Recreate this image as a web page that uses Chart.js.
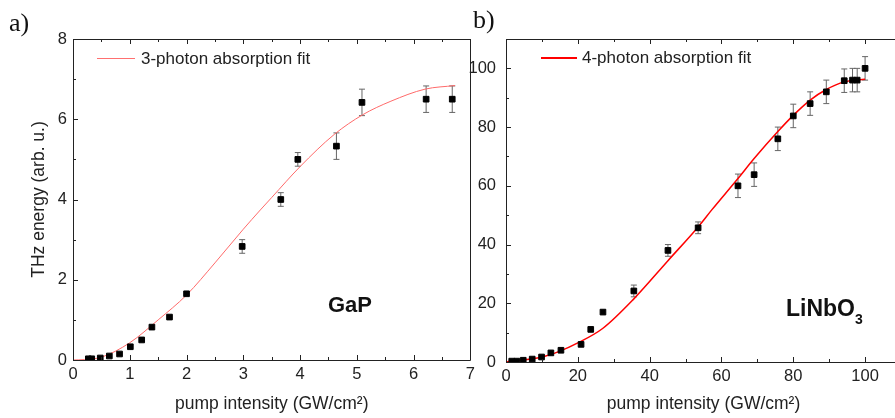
<!DOCTYPE html>
<html>
<head>
<meta charset="utf-8">
<script src="https://cdn.jsdelivr.net/npm/chart.js@4.4.1/dist/chart.umd.min.js"></script>
<style>
  body { margin: 0; width: 895px; height: 418px; overflow: hidden; position: relative; background: #fff; font-family: "Liberation Sans", Arial, sans-serif; color: #222; }
  canvas { position: absolute; top: 0; }
  #chartA { left: 0; }
  #chartB { left: 466px; }
  .lbl { position: absolute; white-space: nowrap; line-height: 1; }
  .panel { font-family: "Liberation Serif", "Times New Roman", serif; font-size: 26px; color: #111; }
  .mat { font-weight: bold; font-size: 22px; color: #111; }
  .leg { font-size: 17px; }
  .legline { position: absolute; }
</style>
</head>
<body>
<canvas id="chartA" width="480" height="418"></canvas>
<canvas id="chartB" width="444" height="418"></canvas>

<div class="lbl panel" style="left:9px; top:10px;">a)</div>
<div class="lbl panel" style="left:473px; top:7px;">b)</div>

<div class="legline" style="left:97px; top:58px; width:38px; height:1px; background:#ff7070;"></div>
<div class="lbl leg" style="left:141px; top:50px;">3-photon absorption fit</div>
<div class="legline" style="left:541px; top:57px; width:36px; height:1.5px; background:#ff0000;"></div>
<div class="lbl leg" style="left:582px; top:49px;">4-photon absorption fit</div>

<div class="lbl mat" style="left:328px; top:294px;">GaP</div>
<div class="lbl mat" style="left:786px; top:297px; font-size:23px;">LiNbO<span style="font-size:14px; position:relative; top:8px;">3</span></div>

<script>
// panel a: GaP
const gapX   = [0.27, 0.33, 0.48, 0.64, 0.82, 1.01, 1.21, 1.39, 1.70, 2.00, 2.98, 3.66, 3.96, 4.64, 5.09, 6.22, 6.68];
const gapY   = [0.03, 0.03, 0.05, 0.10, 0.15, 0.33, 0.50, 0.82, 1.07, 1.65, 2.83, 4.00, 5.00, 5.33, 6.42, 6.50, 6.50];
const gapErr = [0, 0, 0, 0, 0, 0, 0, 0, 0, 0, 0.17, 0.17, 0.17, 0.33, 0.33, 0.33, 0.33];
const gapFitX = [0, 0.2, 0.5, 1.0, 1.5, 2.0, 2.5, 3.0, 3.3, 3.5, 4.0, 4.6, 5.1, 5.6, 6.2, 6.73];
const gapFitY = [0, 0.01, 0.07, 0.43, 1.0, 1.62, 2.42, 3.26, 3.74, 4.05, 4.82, 5.62, 6.11, 6.45, 6.75, 6.84];

// panel b: LiNbO3
const lnX   = [1.6, 3.0, 4.8, 7.3, 9.9, 12.5, 15.3, 20.9, 23.6, 27.0, 35.6, 45.1, 53.5, 64.6, 69.1, 75.7, 80.0, 84.7, 89.2, 94.2, 96.5, 97.8, 100.0];
const lnY   = [0.3, 0.3, 0.6, 1.0, 1.7, 3.1, 4.0, 6.0, 11.1, 17.0, 24.2, 38.0, 45.7, 60.0, 63.8, 76.0, 83.8, 88.0, 92.0, 95.8, 96.0, 96.0, 100.0];
const lnErr = [0, 0, 0, 0, 0, 0, 0, 0, 0, 0, 2, 2, 2, 4, 4, 4, 4, 4, 4, 4, 4, 4, 4];
const lnFitX = [0, 10, 15, 20, 27, 35.6, 45.1, 53.5, 57.3, 64.6, 69.1, 75.7, 80, 84.7, 89.2, 94.2, 100];
const lnFitY = [0, 1.7, 3.7, 6.5, 11.5, 21.5, 34.5, 46.0, 51.8, 62.5, 69.3, 78.5, 84.0, 89.2, 92.8, 95.4, 96.3];

const xy = (xs, ys) => xs.map((x, i) => ({ x: x, y: ys[i] }));

Chart.defaults.font.family = '"Liberation Sans", Arial, sans-serif';
Chart.defaults.font.size = 16.5;
Chart.defaults.color = '#222';

// frame, inward ticks (major longer) and error bars
const framePlugin = {
  id: 'frame',
  beforeDatasetsDraw(chart) {
    const ctx = chart.ctx;
    const ys = chart.scales.y;
    chart.data.datasets.forEach((ds, di) => {
      if (!ds.err) return;
      const meta = chart.getDatasetMeta(di);
      ctx.save();
      ctx.strokeStyle = '#666';
      ctx.lineWidth = 1;
      meta.data.forEach((pt, i) => {
        const e = ds.err[i];
        if (!e) return;
        const v = ds.data[i].y;
        const y1 = ys.getPixelForValue(v - e), y2 = ys.getPixelForValue(v + e);
        ctx.beginPath();
        ctx.moveTo(pt.x, y1); ctx.lineTo(pt.x, y2);
        ctx.moveTo(pt.x - 3, y1); ctx.lineTo(pt.x + 3, y1);
        ctx.moveTo(pt.x - 3, y2); ctx.lineTo(pt.x + 3, y2);
        ctx.stroke();
      });
      ctx.restore();
    });
  },
  afterDraw(chart) {
    const ctx = chart.ctx;
    const a = chart.chartArea;
    const xs = chart.scales.x, ys = chart.scales.y;
    ctx.save();
    ctx.strokeStyle = '#222';
    ctx.lineWidth = 1;
    ctx.beginPath();
    ctx.rect(Math.round(a.left) + 0.5, Math.round(a.top) + 0.5, Math.round(a.right - a.left), Math.round(a.bottom - a.top));
    ctx.stroke();
    ctx.beginPath();
    xs.ticks.forEach(t => {
      const px = Math.round(xs.getPixelForValue(t.value)) + 0.5;
      const len = t.label !== '' ? 5 : 3;
      ctx.moveTo(px, a.bottom); ctx.lineTo(px, a.bottom - len);
      ctx.moveTo(px, a.top); ctx.lineTo(px, a.top + len);
    });
    ys.ticks.forEach(t => {
      const py = Math.round(ys.getPixelForValue(t.value)) + 0.5;
      const len = t.label !== '' ? 5 : 3;
      ctx.moveTo(a.left, py); ctx.lineTo(a.left + len, py);
    });
    ctx.stroke();
    ctx.restore();
  }
};

function makeChart(id, cfg) {
  return new Chart(document.getElementById(id), {
    type: 'scatter',
    data: {
      datasets: [
        {
          data: cfg.points, err: cfg.err, order: 0,
          pointStyle: 'rect', pointRadius: 4, pointBorderWidth: 1,
          backgroundColor: '#000', borderColor: '#000'
        },
        {
          data: cfg.fit, order: 1, showLine: true, pointRadius: 0,
          borderColor: cfg.fitColor, borderWidth: cfg.fitWidth,
          cubicInterpolationMode: 'monotone'
        }
      ]
    },
    options: {
      responsive: false,
      animation: false,
      layout: { padding: cfg.padding },
      plugins: { legend: { display: false }, tooltip: { enabled: false } },
      scales: {
        x: {
          type: 'linear', min: 0, max: cfg.xMax,
          grid: { display: false, drawTicks: false }, border: { display: false },
          ticks: { stepSize: cfg.xStep, autoSkip: false, maxRotation: 0, padding: 5, callback: cfg.xLabel },
          title: { display: true, text: 'pump intensity (GW/cm²)', font: { size: 17.5 }, padding: { top: 0, bottom: 3 } },
          afterFit: s => { s.height = cfg.xHeight; }
        },
        y: {
          type: 'linear', min: 0, max: cfg.yMax,
          grid: { display: false, drawTicks: false }, border: { display: false },
          ticks: { stepSize: cfg.yStep, autoSkip: false, padding: cfg.yPad, callback: cfg.yLabel },
          title: { display: !!cfg.yTitle, text: cfg.yTitle || '', font: { size: 17.5 }, padding: { top: 29, bottom: 0 } },
          afterFit: s => { s.width = cfg.yWidth; }
        }
      }
    },
    plugins: [framePlugin]
  });
}

makeChart('chartA', {
  points: xy(gapX, gapY), err: gapErr, fit: xy(gapFitX, gapFitY),
  fitColor: '#ff6a6a', fitWidth: 1,
  xMax: 7, xStep: 0.5, yMax: 8, yStep: 1,
  xLabel: v => Number.isInteger(v) ? v : '',
  yLabel: v => v % 2 === 0 ? v : '',
  yTitle: 'THz energy (arb. u.)',
  padding: { top: 39, right: 7, left: 0, bottom: 0 },
  xHeight: 58, yWidth: 73, yPad: 6
});

makeChart('chartB', {
  points: xy(lnX, lnY), err: lnErr, fit: xy(lnFitX, lnFitY),
  fitColor: '#ff0000', fitWidth: 1.5,
  xMax: 110, xStep: 10, yMax: 110, yStep: 10,
  xLabel: v => (v % 20 === 0 && v <= 100) ? v : '',
  yLabel: v => (v % 20 === 0 && v <= 100) ? v : '',
  yTitle: null,
  padding: { top: 39, right: 9, left: 0, bottom: 0 },
  xHeight: 56, yWidth: 40, yPad: 10
});
</script>
</body>
</html>
